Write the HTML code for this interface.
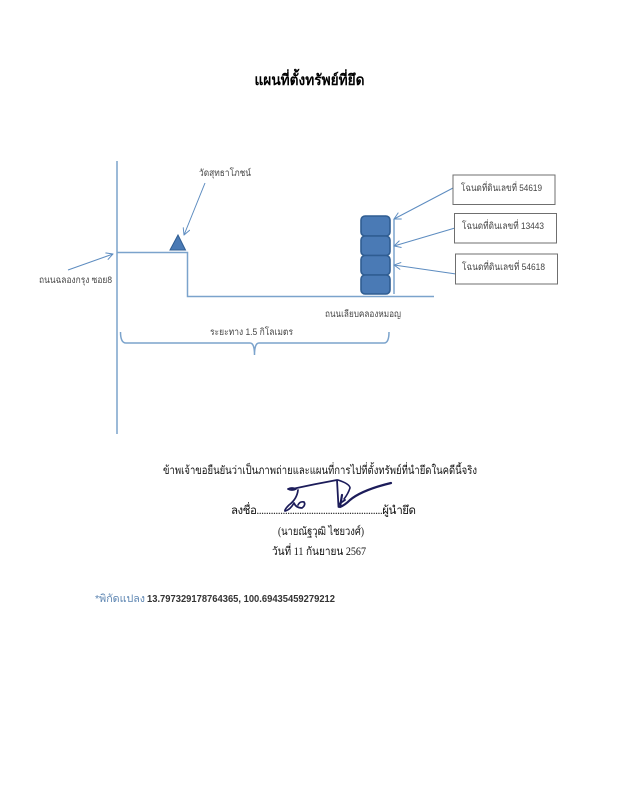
<!DOCTYPE html>
<html lang="th">
<head>
<meta charset="utf-8">
<title>แผนที่ตั้งทรัพย์ที่ยึด</title>
<style>
html,body{margin:0;padding:0;background:#fff;width:619px;height:800px;overflow:hidden}
svg{display:block;filter:blur(0.3px)}
.s{font-family:"Liberation Sans","Noto Sans CJK SC","DejaVu Sans",sans-serif;font-size:9.5px;fill:#444}
.b{font-family:"Liberation Serif","Noto Serif CJK SC","DejaVu Serif",serif;font-size:11.5px;fill:#111}
</style>
</head>
<body>
<svg width="619" height="800" viewBox="0 0 619 800" xmlns="http://www.w3.org/2000/svg">
<defs>
<marker id="a" viewBox="0 0 10 10" refX="9.5" refY="5" markerWidth="8" markerHeight="8" orient="auto" markerUnits="userSpaceOnUse">
<path d="M1 0.5L9.500 5L1 9.500" fill="none" stroke="#5d8cc0" stroke-width="1.200"/>
</marker>
</defs>

<text x="309.500" y="85" text-anchor="middle" textLength="110" lengthAdjust="spacingAndGlyphs" font-family="'Liberation Serif','Noto Serif CJK SC',serif" font-weight="bold" font-size="15" fill="#000">แผนที่ตั้งทรัพย์ที่ยึด</text>

<g fill="none" stroke="#7ba3cc" stroke-width="1.500">
<path d="M117 161V434"/>
<path d="M117 252.500H187.500V296.500H434"/>
<path d="M394 219V294"/>
<path d="M120.500 332Q120.500 343 126 343H250Q254.500 343 254.500 355Q254.500 343 259 343H384Q389 343 389 332"/>
</g>

<path d="M178 235L185.500 250H170Z" fill="#4a7ab5" stroke="#2f5d92" stroke-width="1"/>

<g fill="#4a7ab5" stroke="#2f5d92" stroke-width="1.600">
<rect x="361" y="216" width="29" height="20" rx="4"/>
<rect x="361" y="236" width="29" height="19.500" rx="4"/>
<rect x="361" y="255.500" width="29" height="19.500" rx="4"/>
<rect x="361" y="275" width="29" height="19" rx="4"/>
</g>

<g fill="none" stroke="#5d8cc0" stroke-width="1" marker-end="url(#a)">
<path d="M68 270L113 254"/>
<path d="M205 183L184 235"/>
<path d="M453 188L394 219"/>
<path d="M455 228L394 246"/>
<path d="M456 274L394 265"/>
</g>

<g fill="#fff" stroke="#6f6f6f" stroke-width="1">
<rect x="453" y="175" width="102" height="29.500"/>
<rect x="454.500" y="213.500" width="102" height="29.500"/>
<rect x="455.500" y="254" width="102" height="30"/>
</g>

<text class="s" x="199" y="176" textLength="52" lengthAdjust="spacingAndGlyphs">วัดสุทธาโภชน์</text>
<text class="s" x="39" y="283" textLength="73" lengthAdjust="spacingAndGlyphs">ถนนฉลองกรุง ซอย8</text>
<text class="s" x="210" y="335" textLength="83" lengthAdjust="spacingAndGlyphs">ระยะทาง 1.5 กิโลเมตร</text>
<text class="s" x="325" y="317" textLength="76" lengthAdjust="spacingAndGlyphs">ถนนเลียบคลองหมอญ</text>
<text class="s" x="461" y="191" textLength="81" lengthAdjust="spacingAndGlyphs">โฉนดที่ดินเลขที่ 54619</text>
<text class="s" x="462" y="229" textLength="82" lengthAdjust="spacingAndGlyphs">โฉนดที่ดินเลขที่ 13443</text>
<text class="s" x="462" y="270" textLength="83" lengthAdjust="spacingAndGlyphs">โฉนดที่ดินเลขที่ 54618</text>

<text class="b" x="163" y="474" textLength="314" lengthAdjust="spacingAndGlyphs">ข้าพเจ้าขอยืนยันว่าเป็นภาพถ่ายและแผนที่การไปที่ตั้งทรัพย์ที่นำยึดในคดีนี้จริง</text>
<text class="b" x="231" y="514" textLength="185" lengthAdjust="spacing">ลงชื่อ.....................................................ผู้นำยึด</text>
<text class="b" x="278" y="535" textLength="86" lengthAdjust="spacingAndGlyphs">(นายณัฐวุฒิ ไชยวงศ์)</text>
<text class="b" x="272" y="555" textLength="94" lengthAdjust="spacingAndGlyphs">วันที่  11 กันยายน 2567</text>

<g fill="none" stroke="#1c1c5a" stroke-linecap="round" stroke-linejoin="round">
<path stroke-width="1.800" d="M292 489Q315 484 337 480L338.500 507"/>
<path stroke-width="1.600" d="M338 480Q350 484 350 488Q348 494 344 499"/>
<path stroke-width="2.200" d="M342 495L340 507Q345 505 350 500Q362 490 391 483"/>
<path stroke-width="1.800" d="M339 504L345 500"/>
<path stroke-width="1.700" d="M288 489Q292 487 296 489Q292 491 288 489M298 490Q297 499 289 505Q284 510 285 511Q290 510 294 503Q296 508 302 508Q306 505 304 502Q300 501 298 505"/>
</g>

<text x="95" y="602" textLength="50" lengthAdjust="spacingAndGlyphs" font-family="'Liberation Sans','Noto Sans CJK SC',sans-serif" font-size="10.500" fill="#5b84b1">*พิกัดแปลง</text>
<text x="147" y="602" textLength="188" lengthAdjust="spacingAndGlyphs" font-family="'Liberation Sans',sans-serif" font-size="10" font-weight="bold" fill="#333">13.797329178764365, 100.69435459279212</text>
</svg>
</body>
</html>
